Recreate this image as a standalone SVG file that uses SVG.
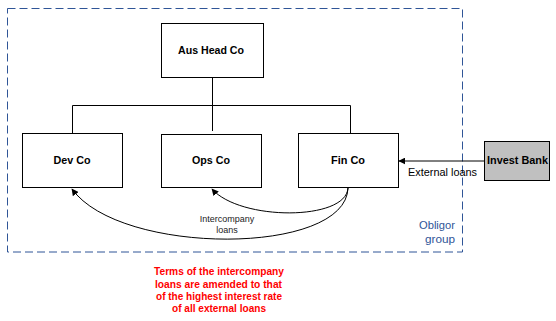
<svg xmlns="http://www.w3.org/2000/svg" width="556" height="321" viewBox="0 0 556 321">
<style>
.box{fill:#fff;stroke:#000;stroke-width:1}
.lbl{font-family:"Liberation Sans",Arial,sans-serif;font-size:11px;font-weight:bold;fill:#000;text-anchor:middle}
.line{fill:none;stroke:#000;stroke-width:1}
.small{font-family:"Liberation Sans",Arial,sans-serif;font-size:9px;fill:#222;text-anchor:middle}
.ext{font-family:"Liberation Sans",Arial,sans-serif;font-size:11px;fill:#000;text-anchor:middle}
.obl{font-family:"Liberation Sans",Arial,sans-serif;font-size:11px;fill:#2F5597;text-anchor:end}
.red{font-family:"Liberation Sans",Arial,sans-serif;font-size:11px;font-weight:bold;fill:#FF0000;text-anchor:middle}
</style>
<defs>
<marker id="arr" viewBox="0 0 10 10" refX="9" refY="5" markerWidth="7" markerHeight="7" orient="auto" markerUnits="userSpaceOnUse">
<path d="M0,0 L10,5 L0,10 z" fill="#000"/>
</marker>
</defs>
<rect x="7.5" y="8.5" width="455" height="243.5" fill="none" stroke="#2F5597" stroke-width="1" stroke-dasharray="8,4"/>
<g id="connectors">
<path class="line" d="M212.5,77.5 V131"/>
<path class="line" d="M72.5,133.5 V105.5 H350.5 V133.5"/>
<path class="line" d="M484,161 H399" marker-end="url(#arr)"/>
<path class="line" d="M348,188 C346,221 240,221 212,189" marker-end="url(#arr)"/>
<path class="line" d="M348,188 C346,256 120,256 72,189" marker-end="url(#arr)"/>
</g>
<g id="aushead"><rect class="box" x="161.5" y="23.5" width="102" height="54"/><text class="lbl" x="211" y="54" textLength="66" lengthAdjust="spacingAndGlyphs">Aus Head Co</text></g>
<g id="devco"><rect class="box" x="22.5" y="133.5" width="100" height="54"/><text class="lbl" x="72" y="164" textLength="37" lengthAdjust="spacingAndGlyphs">Dev Co</text></g>
<g id="opsco"><rect class="box" x="161.5" y="134.5" width="100" height="53"/><text class="lbl" x="211" y="164" textLength="38" lengthAdjust="spacingAndGlyphs">Ops Co</text></g>
<g id="finco"><rect class="box" x="298.5" y="133.5" width="100" height="54"/><text class="lbl" x="348" y="164" textLength="34" lengthAdjust="spacingAndGlyphs">Fin Co</text></g>
<g id="investbank"><rect x="484.5" y="141.5" width="65" height="39" fill="#C0C0C0" stroke="#000"/><text class="lbl" x="517.5" y="164" textLength="61" lengthAdjust="spacingAndGlyphs">Invest Bank</text></g>
<text class="ext" x="442.5" y="176" textLength="69" lengthAdjust="spacingAndGlyphs">External loans</text>
<text class="small" x="227" y="222">Intercompany</text>
<text class="small" x="227" y="233">loans</text>
<text class="obl" x="455" y="229" textLength="36" lengthAdjust="spacingAndGlyphs">Obligor</text>
<text class="obl" x="455" y="243" textLength="30" lengthAdjust="spacingAndGlyphs">group</text>
<text class="red" x="219" y="275" textLength="130" lengthAdjust="spacingAndGlyphs">Terms of the intercompany</text>
<text class="red" x="218.5" y="288" textLength="127" lengthAdjust="spacingAndGlyphs">loans are amended to that</text>
<text class="red" x="219" y="300" textLength="126" lengthAdjust="spacingAndGlyphs">of the highest interest rate</text>
<text class="red" x="219" y="312" textLength="94" lengthAdjust="spacingAndGlyphs">of all external loans</text>
</svg>
